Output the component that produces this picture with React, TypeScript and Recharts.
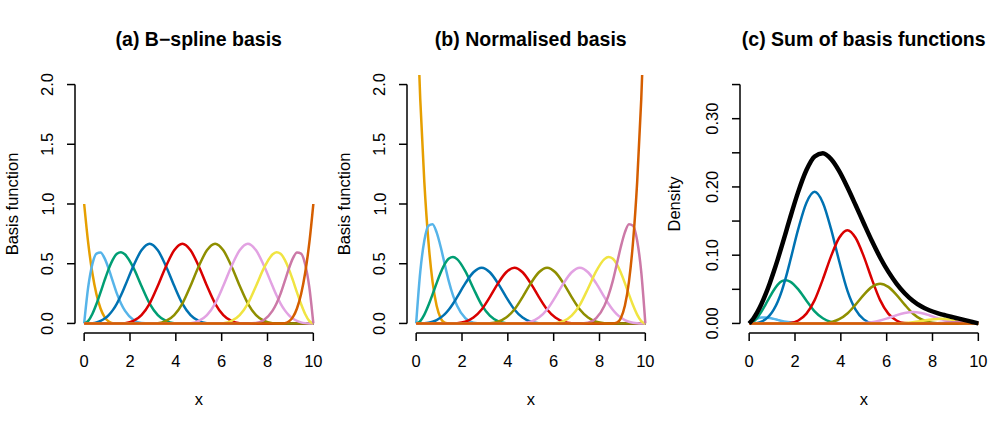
import React from 'react';
import { LineChart, Line, XAxis, YAxis, ReferenceLine } from 'recharts';

const FONT = '"Liberation Sans", Arial, Helvetica, sans-serif';

// x grid
const X = [0, 0.1786, 0.3571, 0.5357, 0.7143, 0.8929, 1.0714, 1.25, 1.4286, 1.6071, 1.7857, 2.1429, 2.5, 2.8571, 3.2143, 3.5714, 3.9286, 4.2857, 4.6429, 5, 5.3571, 5.7143, 6.0714, 6.4286, 6.7857, 7.1429, 7.5, 7.8571, 8.2143, 8.3929, 8.5714, 8.75, 8.9286, 9.1071, 9.2857, 9.4643, 9.6429, 9.8214, 10];

// (a) B-spline basis
const A0 = [1, 0.6699, 0.4219, 0.2441, 0.125, 0.0527, 0.0156, 0.002, 0, 0, 0, 0, 0, 0, 0, 0, 0, 0, 0, 0, 0, 0, 0, 0, 0, 0, 0, 0, 0, 0, 0, 0, 0, 0, 0, 0, 0, 0, 0];
const A1 = [0, 0.3081, 0.4961, 0.5845, 0.5938, 0.5444, 0.457, 0.3521, 0.25, 0.1675, 0.1055, 0.0313, 0.0039, 0, 0, 0, 0, 0, 0, 0, 0, 0, 0, 0, 0, 0, 0, 0, 0, 0, 0, 0, 0, 0, 0, 0, 0, 0, 0];
const A2 = [0, 0.0216, 0.0794, 0.1626, 0.2604, 0.3621, 0.457, 0.5343, 0.5833, 0.5962, 0.5768, 0.4688, 0.3138, 0.1667, 0.0703, 0.0208, 0.0026, 0, 0, 0, 0, 0, 0, 0, 0, 0, 0, 0, 0, 0, 0, 0, 0, 0, 0, 0, 0, 0, 0];
const A3 = [0, 0.0003, 0.0026, 0.0088, 0.0208, 0.0407, 0.0703, 0.1117, 0.1667, 0.236, 0.3151, 0.4792, 0.612, 0.6667, 0.612, 0.4792, 0.3151, 0.1667, 0.0703, 0.0208, 0.0026, 0, 0, 0, 0, 0, 0, 0, 0, 0, 0, 0, 0, 0, 0, 0, 0, 0, 0];
const A4 = [0, 0, 0, 0, 0, 0, 0, 0, 0, 0.0003, 0.0026, 0.0208, 0.0703, 0.1667, 0.3151, 0.4792, 0.612, 0.6667, 0.612, 0.4792, 0.3151, 0.1667, 0.0703, 0.0208, 0.0026, 0, 0, 0, 0, 0, 0, 0, 0, 0, 0, 0, 0, 0, 0];
const A5 = [0, 0, 0, 0, 0, 0, 0, 0, 0, 0, 0, 0, 0, 0, 0.0026, 0.0208, 0.0703, 0.1667, 0.3151, 0.4792, 0.612, 0.6667, 0.612, 0.4792, 0.3151, 0.1667, 0.0703, 0.0208, 0.0026, 0.0003, 0, 0, 0, 0, 0, 0, 0, 0, 0];
const A6 = [0, 0, 0, 0, 0, 0, 0, 0, 0, 0, 0, 0, 0, 0, 0, 0, 0, 0, 0.0026, 0.0208, 0.0703, 0.1667, 0.3151, 0.4792, 0.612, 0.6667, 0.612, 0.4792, 0.3151, 0.236, 0.1667, 0.1117, 0.0703, 0.0407, 0.0208, 0.0088, 0.0026, 0.0003, 0];
const A7 = [0, 0, 0, 0, 0, 0, 0, 0, 0, 0, 0, 0, 0, 0, 0, 0, 0, 0, 0, 0, 0, 0, 0.0026, 0.0208, 0.0703, 0.1667, 0.3138, 0.4688, 0.5768, 0.5962, 0.5833, 0.5343, 0.457, 0.3621, 0.2604, 0.1626, 0.0794, 0.0216, 0];
const A8 = [0, 0, 0, 0, 0, 0, 0, 0, 0, 0, 0, 0, 0, 0, 0, 0, 0, 0, 0, 0, 0, 0, 0, 0, 0, 0, 0.0039, 0.0313, 0.1055, 0.1675, 0.25, 0.3521, 0.457, 0.5444, 0.5938, 0.5845, 0.4961, 0.3081, 0];
const A9 = [0, 0, 0, 0, 0, 0, 0, 0, 0, 0, 0, 0, 0, 0, 0, 0, 0, 0, 0, 0, 0, 0, 0, 0, 0, 0, 0, 0, 0, 0, 0, 0.002, 0.0156, 0.0527, 0.125, 0.2441, 0.4219, 0.6699, 1];

// (b) normalised basis
const N0 = [2.8, 1.876, 1.181, 0.684, 0.35, 0.148, 0.044, 0.0055, 0, 0, 0, 0, 0, 0, 0, 0, 0, 0, 0, 0, 0, 0, 0, 0, 0, 0, 0, 0, 0, 0, 0, 0, 0, 0, 0, 0, 0, 0, 0];
const N1 = [0, 0.4313, 0.6945, 0.8183, 0.8313, 0.7622, 0.6398, 0.4929, 0.35, 0.2345, 0.1477, 0.0438, 0.0055, 0, 0, 0, 0, 0, 0, 0, 0, 0, 0, 0, 0, 0, 0, 0, 0, 0, 0, 0, 0, 0, 0, 0, 0, 0, 0];
const N2 = [0, 0.0202, 0.0741, 0.1518, 0.243, 0.338, 0.4265, 0.4987, 0.5444, 0.5564, 0.5383, 0.4375, 0.2929, 0.1556, 0.0656, 0.0194, 0.0024, 0, 0, 0, 0, 0, 0, 0, 0, 0, 0, 0, 0, 0, 0, 0, 0, 0, 0, 0, 0, 0, 0];
const N3 = [0, 0.0002, 0.0018, 0.0062, 0.0146, 0.0285, 0.0492, 0.0782, 0.1167, 0.1652, 0.2206, 0.3354, 0.4284, 0.4667, 0.4284, 0.3354, 0.2206, 0.1167, 0.0492, 0.0146, 0.0018, 0, 0, 0, 0, 0, 0, 0, 0, 0, 0, 0, 0, 0, 0, 0, 0, 0, 0];
const N4 = [0, 0, 0, 0, 0, 0, 0, 0, 0, 0.0002, 0.0018, 0.0146, 0.0492, 0.1167, 0.2206, 0.3354, 0.4284, 0.4667, 0.4284, 0.3354, 0.2206, 0.1167, 0.0492, 0.0146, 0.0018, 0, 0, 0, 0, 0, 0, 0, 0, 0, 0, 0, 0, 0, 0];
const N5 = [0, 0, 0, 0, 0, 0, 0, 0, 0, 0, 0, 0, 0, 0, 0.0018, 0.0146, 0.0492, 0.1167, 0.2206, 0.3354, 0.4284, 0.4667, 0.4284, 0.3354, 0.2206, 0.1167, 0.0492, 0.0146, 0.0018, 0.0002, 0, 0, 0, 0, 0, 0, 0, 0, 0];
const N6 = [0, 0, 0, 0, 0, 0, 0, 0, 0, 0, 0, 0, 0, 0, 0, 0, 0, 0, 0.0018, 0.0146, 0.0492, 0.1167, 0.2206, 0.3354, 0.4284, 0.4667, 0.4284, 0.3354, 0.2206, 0.1652, 0.1167, 0.0782, 0.0492, 0.0285, 0.0146, 0.0062, 0.0018, 0.0002, 0];
const N7 = [0, 0, 0, 0, 0, 0, 0, 0, 0, 0, 0, 0, 0, 0, 0, 0, 0, 0, 0, 0, 0, 0, 0.0024, 0.0194, 0.0656, 0.1556, 0.2929, 0.4375, 0.5383, 0.5564, 0.5444, 0.4987, 0.4265, 0.338, 0.243, 0.1518, 0.0741, 0.0202, 0];
const N8 = [0, 0, 0, 0, 0, 0, 0, 0, 0, 0, 0, 0, 0, 0, 0, 0, 0, 0, 0, 0, 0, 0, 0, 0, 0, 0, 0.0055, 0.0438, 0.1477, 0.2345, 0.35, 0.4929, 0.6398, 0.7622, 0.8313, 0.8183, 0.6945, 0.4313, 0];
const N9 = [0, 0, 0, 0, 0, 0, 0, 0, 0, 0, 0, 0, 0, 0, 0, 0, 0, 0, 0, 0, 0, 0, 0, 0, 0, 0, 0, 0, 0, 0, 0, 0.0055, 0.044, 0.148, 0.35, 0.684, 1.181, 1.876, 2.8];

// (c) weighted basis functions and their sum
const W0 = [0, 0, 0, 0, 0, 0, 0, 0, 0, 0, 0, 0, 0, 0, 0, 0, 0, 0, 0, 0, 0, 0, 0, 0, 0, 0, 0, 0, 0, 0, 0, 0, 0, 0, 0, 0, 0, 0, 0];
const W1 = [0, 0.0045, 0.0073, 0.0086, 0.0087, 0.008, 0.0067, 0.0052, 0.0037, 0.0025, 0.0016, 0.0005, 0.0001, 0, 0, 0, 0, 0, 0, 0, 0, 0, 0, 0, 0, 0, 0, 0, 0, 0, 0, 0, 0, 0, 0, 0, 0, 0, 0];
const W2 = [0, 0.0023, 0.0085, 0.0173, 0.0277, 0.0385, 0.0486, 0.0569, 0.0621, 0.0634, 0.0614, 0.0499, 0.0334, 0.0177, 0.0075, 0.0022, 0.0003, 0, 0, 0, 0, 0, 0, 0, 0, 0, 0, 0, 0, 0, 0, 0, 0, 0, 0, 0, 0, 0, 0];
const W3 = [0, 0.0001, 0.0007, 0.0026, 0.006, 0.0118, 0.0203, 0.0323, 0.0482, 0.0682, 0.0911, 0.1385, 0.1769, 0.1928, 0.1769, 0.1385, 0.0911, 0.0482, 0.0203, 0.006, 0.0007, 0, 0, 0, 0, 0, 0, 0, 0, 0, 0, 0, 0, 0, 0, 0, 0, 0, 0];
const W4 = [0, 0, 0, 0, 0, 0, 0, 0, 0, 0.0001, 0.0005, 0.0043, 0.0144, 0.0342, 0.0646, 0.0983, 0.1255, 0.1367, 0.1255, 0.0983, 0.0646, 0.0342, 0.0144, 0.0043, 0.0005, 0, 0, 0, 0, 0, 0, 0, 0, 0, 0, 0, 0, 0, 0];
const W5 = [0, 0, 0, 0, 0, 0, 0, 0, 0, 0, 0, 0, 0, 0, 0.0002, 0.0018, 0.0062, 0.0146, 0.0276, 0.0419, 0.0536, 0.0583, 0.0536, 0.0419, 0.0276, 0.0146, 0.0062, 0.0018, 0.0002, 0, 0, 0, 0, 0, 0, 0, 0, 0, 0];
const W6 = [0, 0, 0, 0, 0, 0, 0, 0, 0, 0, 0, 0, 0, 0, 0, 0, 0, 0, 0.0001, 0.0005, 0.0018, 0.0042, 0.0079, 0.0121, 0.0154, 0.0168, 0.0154, 0.0121, 0.0079, 0.0059, 0.0042, 0.0028, 0.0018, 0.001, 0.0005, 0.0002, 0.0001, 0, 0];
const W7 = [0, 0, 0, 0, 0, 0, 0, 0, 0, 0, 0, 0, 0, 0, 0, 0, 0, 0, 0, 0, 0, 0, 0, 0.0002, 0.0008, 0.0019, 0.0035, 0.0053, 0.0065, 0.0067, 0.0065, 0.006, 0.0051, 0.0041, 0.0029, 0.0018, 0.0009, 0.0002, 0];
const W8 = [0, 0, 0, 0, 0, 0, 0, 0, 0, 0, 0, 0, 0, 0, 0, 0, 0, 0, 0, 0, 0, 0, 0, 0, 0, 0, 0, 0.0001, 0.0004, 0.0007, 0.0011, 0.0015, 0.0019, 0.0023, 0.0025, 0.0025, 0.0021, 0.0013, 0];
const W9 = [0, 0, 0, 0, 0, 0, 0, 0, 0, 0, 0, 0, 0, 0, 0, 0, 0, 0, 0, 0, 0, 0, 0, 0, 0, 0, 0, 0, 0, 0, 0, 0, 0, 0, 0, 0, 0, 0, 0];
const TOTAL = [0, 0.0069, 0.0165, 0.0285, 0.0425, 0.0583, 0.0757, 0.0943, 0.1139, 0.1342, 0.1546, 0.1931, 0.2248, 0.2447, 0.2493, 0.2408, 0.2231, 0.1995, 0.1735, 0.1468, 0.1207, 0.0967, 0.0759, 0.0585, 0.0443, 0.0333, 0.0251, 0.0193, 0.0151, 0.0133, 0.0118, 0.0103, 0.0088, 0.0074, 0.0059, 0.0045, 0.003, 0.0015, 0];

const COLORS = ['#E69F00', '#56B4E9', '#009E73', '#0072B2', '#D90000', '#8F8F00', '#E2A2E2', '#F0E442', '#CC79A7', '#D55E00'];

const X_TICKS = [0, 2, 4, 6, 8, 10];
const AB_Y_TICKS = [0, 0.5, 1, 1.5, 2];
const AB_Y_LABELS = ['0.0', '0.5', '1.0', '1.5', '2.0'];
const C_Y_TICKS = [0, 0.05, 0.1, 0.15, 0.2, 0.25, 0.3, 0.35];
const C_Y_LABELS = ['0.00', '', '0.10', '', '0.20', '', '0.30', ''];

const PANEL_W = 332;
const PANEL_H = 427;
const PLOT_L = 75;
const PLOT_R = 322.5;
const TICK_FS = 16.5;
const TITLE_FS = 19.5;

type PanelProps = {
  left: number;
  title: string;
  ylab: string;
  ylabX: number;
  series: number[][];
  total?: number[];
  yDomain: [number, number];
  yTicks: number[];
  yLabels: string[];
};

function Panel({ left, title, ylab, ylabX, series, total, yDomain, yTicks, yLabels }: PanelProps) {
  const rows = X.map((x, i) => {
    const r: any = { x };
    series.forEach((s, k) => { r['s' + k] = s[i]; });
    if (total) r.total = total[i];
    return r;
  });
  const yTop = yTicks[yTicks.length - 1];
  const cx = (PLOT_L + PLOT_R) / 2;

  const YTick = (props: any) => {
    const v = props.payload?.value;
    const idx = yTicks.findIndex((t) => Math.abs(t - v) < 1e-9);
    const lab = idx >= 0 ? yLabels[idx] : '';
    if (!lab) return <g />;
    const bx = 53.5;
    return (
      <text x={bx} y={props.y} textAnchor="middle" transform={`rotate(-90 ${bx} ${props.y})`}
        fontSize={TICK_FS} fontFamily={FONT} fill="#000">{lab}</text>
    );
  };
  const XTick = (props: any) => (
    <text x={props.x} y={367} textAnchor="middle" fontSize={TICK_FS} fontFamily={FONT} fill="#000">
      {props.payload?.value}
    </text>
  );

  return (
    <div style={{ position: 'absolute', left, top: 0, width: PANEL_W, height: PANEL_H }}>
      <LineChart width={PANEL_W} height={PANEL_H} data={rows}
        margin={{ top: 75, right: PANEL_W - PLOT_R, bottom: 44, left: 0 }}>
        <XAxis dataKey="x" type="number" domain={[-0.4, 10.4]} ticks={X_TICKS} axisLine={false}
          tickSize={8} tickLine={{ stroke: '#000', strokeWidth: 1.5 }} tick={XTick} height={50} allowDataOverflow />
        <YAxis type="number" domain={yDomain} ticks={yTicks} axisLine={false} width={PLOT_L}
          tickSize={8} tickLine={{ stroke: '#000', strokeWidth: 1.5 }} tick={YTick} allowDataOverflow interval={0} />
        <ReferenceLine segment={[{ x: 0, y: yDomain[0] }, { x: 10, y: yDomain[0] }]} stroke="#000" strokeWidth={1.5} ifOverflow="visible" />
        <ReferenceLine segment={[{ x: -0.4, y: 0 }, { x: -0.4, y: yTop }]} stroke="#000" strokeWidth={1.5} ifOverflow="visible" />
        {series.map((_, k) => (
          <Line key={k} dataKey={'s' + k} type="monotone" stroke={COLORS[k]} strokeWidth={2.5}
            dot={false} activeDot={false} isAnimationActive={false} />
        ))}
        {total && (
          <Line dataKey="total" type="monotone" stroke="#000" strokeWidth={4.5}
            dot={false} activeDot={false} isAnimationActive={false} />
        )}
      </LineChart>
      <svg width={PANEL_W} height={PANEL_H} style={{ position: 'absolute', left: 0, top: 0, pointerEvents: 'none' }}>
        <text x={cx} y={46} textAnchor="middle" fontSize={TITLE_FS} fontWeight="bold" fontFamily={FONT} fill="#000">{title}</text>
        <text x={cx} y={405} textAnchor="middle" fontSize={TICK_FS} fontFamily={FONT} fill="#000">x</text>
        <text x={ylabX} y={204} textAnchor="middle" transform={`rotate(-90 ${ylabX} 204)`}
          fontSize={TICK_FS} fontFamily={FONT} fill="#000">{ylab}</text>
      </svg>
    </div>
  );
}

export default function App() {
  return (
    <div style={{ position: 'absolute', left: 0, top: 0, width: 997, height: 427, background: '#fff', overflow: 'hidden' }}>
      <Panel left={0} title="(a) B−spline basis" ylab="Basis function" ylabX={18}
        series={[A0, A1, A2, A3, A4, A5, A6, A7, A8, A9]}
        yDomain={[-0.08, 2.08]} yTicks={AB_Y_TICKS} yLabels={AB_Y_LABELS} />
      <Panel left={332.33} title="(b) Normalised basis" ylab="Basis function" ylabX={18}
        series={[N0, N1, N2, N3, N4, N5, N6, N7, N8, N9]}
        yDomain={[-0.08, 2.08]} yTicks={AB_Y_TICKS} yLabels={AB_Y_LABELS} />
      <Panel left={664.67} title="(c) Sum of basis functions" ylab="Density" ylabX={15}
        series={[W0, W1, W2, W3, W4, W5, W6, W7, W8, W9]} total={TOTAL}
        yDomain={[-0.014, 0.364]} yTicks={C_Y_TICKS} yLabels={C_Y_LABELS} />
    </div>
  );
}
